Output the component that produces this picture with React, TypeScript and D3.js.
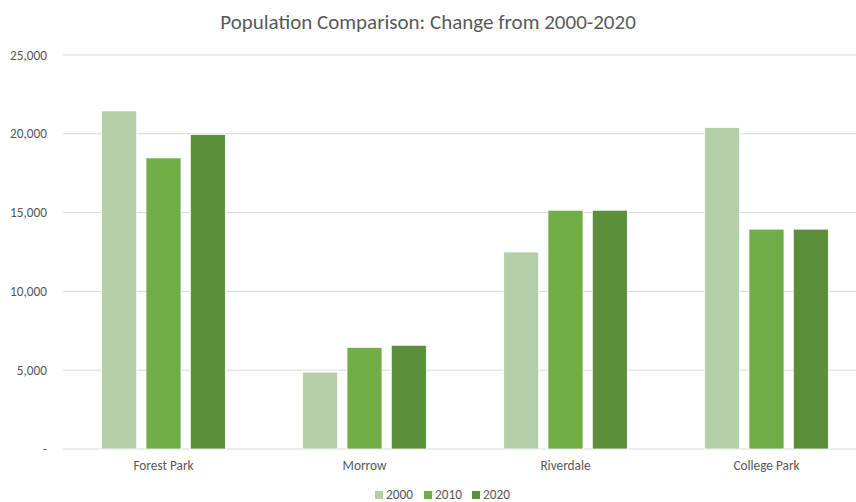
import React from "react";
import * as d3 from "d3";

const categories = ["Forest Park", "Morrow", "Riverdale", "College Park"];
const seriesNames = ["2000", "2010", "2020"];
const values2000 = [21450, 4880, 12500, 20400];
const values2010 = [18470, 6450, 15150, 13950];
const values2020 = [19950, 6580, 15150, 13950];
const yTicks = [0, 5000, 10000, 15000, 20000, 25000];
const colors = ["#b5cea8", "#70ad47", "#5b8f3a"];

const W = 856, H = 502;
const left = 63, right = 867, gridRight = 856, top = 55, bottom = 449;

export default function App() {
  const series = [values2000, values2010, values2020];
  const x = d3.scaleBand().domain(categories).range([left, right]).paddingInner(0).paddingOuter(0);
  const xs = d3.scaleBand().domain(seriesNames).range([0, x.bandwidth()]).paddingInner(0.21).paddingOuter(0.873);
  const y = d3.scaleLinear().domain([0, 25000]).range([bottom, top]);
  const fmt = (v: number) => (v === 0 ? "-" : d3.format(",")(v));
  const font = "Carlito, 'Open Sans', 'Liberation Sans', sans-serif";
  const legendX = [375, 424, 472];
  return (
    <svg width={W} height={H} style={{ position: "absolute", left: 0, top: 0, background: "#fff" }} fontFamily={font}>
      <text x={W / 2} y={29} textAnchor="middle" fontSize={21} fill="#595959">
        Population Comparison: Change from 2000-2020
      </text>
      {yTicks.map((t) => (
        <g key={t}>
          <line x1={left} x2={gridRight} y1={y(t)} y2={y(t)} stroke="#d9d9d9" strokeWidth={1} />
          <text x={47} y={y(t) + 4.5} textAnchor="end" fontSize={13.3} fill="#595959">
            {fmt(t)}
          </text>
        </g>
      ))}
      {categories.map((c, i) => (
        <g key={c}>
          {series.map((s, j) => (
            <rect
              key={j}
              x={(x(c) as number) + (xs(seriesNames[j]) as number)}
              y={y(s[i])}
              width={xs.bandwidth()}
              height={bottom - y(s[i])}
              fill={colors[j]}
              stroke="#fff"
              strokeWidth={0.75}
            />
          ))}
          <text x={(x(c) as number) + x.bandwidth() / 2} y={470} textAnchor="middle" fontSize={13.3} fill="#595959">
            {c}
          </text>
        </g>
      ))}
      {seriesNames.map((n, j) => (
        <g key={n}>
          <rect x={legendX[j]} y={491} width={8} height={8} fill={colors[j]} />
          <text x={legendX[j] + 11} y={499} fontSize={13.3} fill="#595959">
            {n}
          </text>
        </g>
      ))}
    </svg>
  );
}
